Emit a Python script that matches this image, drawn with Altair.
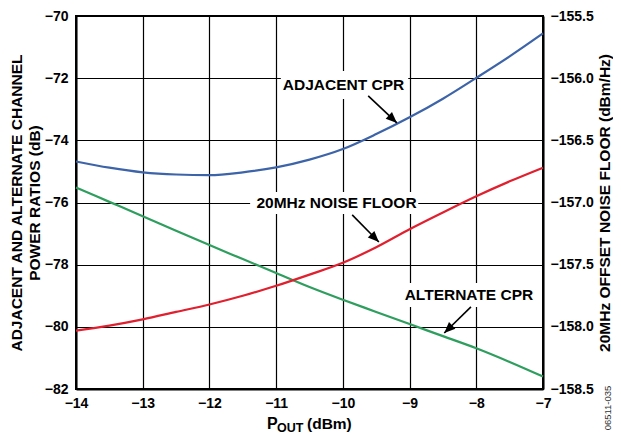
import altair as alt
import pandas as pd

# ---- data ----
x_vals = [-14, -13.5, -13, -12.5, -12, -11.5, -11, -10.5, -10, -9.5, -9, -8.5, -8, -7.5, -7]
adjacent_cpr = [-74.68, -74.88, -75.03, -75.10, -75.12, -75.03, -74.87, -74.62, -74.28,
                -73.80, -73.26, -72.66, -71.99, -71.30, -70.56]
alternate_cpr = [-75.52, -75.98, -76.44, -76.91, -77.37, -77.82, -78.27, -78.72, -79.13,
                 -79.52, -79.91, -80.30, -80.69, -81.13, -81.60]
noise_floor = [-158.03, -157.99, -157.94, -157.88, -157.82, -157.75, -157.67, -157.58, -157.485,
               -157.36, -157.215, -157.08, -156.95, -156.83, -156.72]

x_ticks = [-14, -13, -12, -11, -10, -9, -8, -7]
left_ticks = [-82, -80, -78, -76, -74, -72, -70]
right_ticks = [-158.5, -158.0, -157.5, -157.0, -156.5, -156.0, -155.5]

label_text = ["ADJACENT CPR", "20MHz NOISE FLOOR", "ALTERNATE CPR"]
label_x = [-9.99, -10.095, -8.11]
label_y = [-72.22, -76.02, -78.98]
box_x = [-10.93, -11.39, -9.14]
box_x2 = [-9.02, -8.87, -7.09]
box_y = [-71.77, -75.66, -78.59]
box_y2 = [-72.67, -76.37, -79.36]
arrow_x = [-9.62, -9.86, -8.08]
arrow_y = [-72.57, -76.40, -79.36]
arrow_x2 = [-9.19, -9.46, -8.48]
arrow_y2 = [-73.44, -77.27, -80.20]
arrow_angle = [133, 135, 226]

FONT = "Liberation Sans"

df = pd.DataFrame({"x": x_vals, "adj": adjacent_cpr, "alt": alternate_cpr, "nf": noise_floor})
ann = pd.DataFrame({
    "text": label_text, "lx": label_x, "ly": label_y,
    "bx": box_x, "bx2": box_x2, "by": box_y, "by2": box_y2,
    "ax": arrow_x, "ay": arrow_y, "ax2": arrow_x2, "ay2": arrow_y2, "ang": arrow_angle,
})

xscale = alt.Scale(domain=[-14, -7], nice=False, zero=False)
lscale = alt.Scale(domain=[-82, -70], nice=False, zero=False)
rscale = alt.Scale(domain=[-158.5, -155.5], nice=False, zero=False)

x_enc = alt.X("x:Q", scale=xscale,
              axis=alt.Axis(values=x_ticks, format="d", title=None, grid=True, ticks=False,
                            labelPadding=7, labelFlush=False))

blue = alt.Chart(df).mark_line(color="#3d64a8", strokeWidth=2.2, interpolate="monotone").encode(
    x=x_enc,
    y=alt.Y("adj:Q", scale=lscale,
            axis=alt.Axis(values=left_ticks, format="d", grid=True, ticks=False, labelPadding=8,
                          labelFlush=False, titlePadding=2,
                          title=["ADJACENT AND ALTERNATE CHANNEL", "POWER RATIOS (dB)"])),
)
green = alt.Chart(df).mark_line(color="#2e9e5e", strokeWidth=2.2, interpolate="monotone").encode(
    x=alt.X("x:Q", scale=xscale),
    y=alt.Y("alt:Q", scale=lscale),
)

boxes = alt.Chart(ann).mark_rect(color="white").encode(
    x=alt.X("bx:Q", scale=xscale), x2="bx2:Q",
    y=alt.Y("by:Q", scale=lscale), y2="by2:Q",
)
texts = alt.Chart(ann).mark_text(font=FONT, fontSize=15.5, fontWeight="bold", color="black",
                                 align="center", baseline="middle").encode(
    x=alt.X("lx:Q", scale=xscale), y=alt.Y("ly:Q", scale=lscale), text="text:N",
)
rules = alt.Chart(ann).mark_rule(color="black", strokeWidth=1.6).encode(
    x=alt.X("ax:Q", scale=xscale), x2="ax2:Q",
    y=alt.Y("ay:Q", scale=lscale), y2="ay2:Q",
)
heads = alt.Chart(ann).mark_point(shape="M0,0L-0.42,1L0.42,1Z", filled=True, opacity=1,
                                  color="black", size=484).encode(
    x=alt.X("ax2:Q", scale=xscale), y=alt.Y("ay2:Q", scale=lscale),
    angle=alt.Angle("ang:Q", scale=None),
)

one = pd.DataFrame({"k": [0]})
xt_p = alt.Chart(one).mark_text(text="P", font=FONT, fontSize=16, fontWeight="bold",
                                align="left", baseline="alphabetic", color="black").encode(
    x=alt.value(191), y=alt.value(413))
xt_out = alt.Chart(one).mark_text(text="OUT", font=FONT, fontSize=12.5, fontWeight="bold",
                                  align="left", baseline="alphabetic", color="black").encode(
    x=alt.value(201), y=alt.value(416))
xt_dbm = alt.Chart(one).mark_text(text="(dBm)", font=FONT, fontSize=15.5, fontWeight="bold",
                                  align="left", baseline="alphabetic", color="black").encode(
    x=alt.value(231), y=alt.value(413))
code = alt.Chart(one).mark_text(text="06511-035", font=FONT, fontSize=9.5, angle=270,
                                align="center", baseline="middle", color="#333333").encode(
    x=alt.value(532), y=alt.value(392))

left = alt.layer(boxes, blue, green, rules, heads, texts, xt_p, xt_out, xt_dbm, code)

red = alt.Chart(df).mark_line(color="#e0202f", strokeWidth=2.2, interpolate="monotone").encode(
    x=alt.X("x:Q", scale=xscale),
    y=alt.Y("nf:Q", scale=rscale,
            axis=alt.Axis(orient="right", values=right_ticks, format=".1f", grid=False, ticks=False,
                          labelPadding=7, labelFlush=False, titlePadding=4, titleAngle=270,
                          titleBaseline="top",
                          title="20MHz OFFSET NOISE FLOOR (dBm/Hz)")),
)

chart = alt.layer(left, red).resolve_scale(y="independent").properties(
    width=467, height=373,
    padding={"left": 68, "top": 8, "right": 70, "bottom": 47},
    autosize=alt.AutoSizeParams(type="none"),
).configure_view(stroke="black", strokeWidth=2).configure_axis(
    labelFont=FONT, labelFontSize=14, labelFontWeight="bold", labelColor="black",
    titleFont=FONT, titleFontSize=15.5, titleFontWeight="bold", titleColor="black",
    domainColor="black", domainWidth=2, gridColor="black", gridWidth=1.2, gridOpacity=1,
)

chart.save("out.html", embed_options={"renderer": "svg", "actions": False})
